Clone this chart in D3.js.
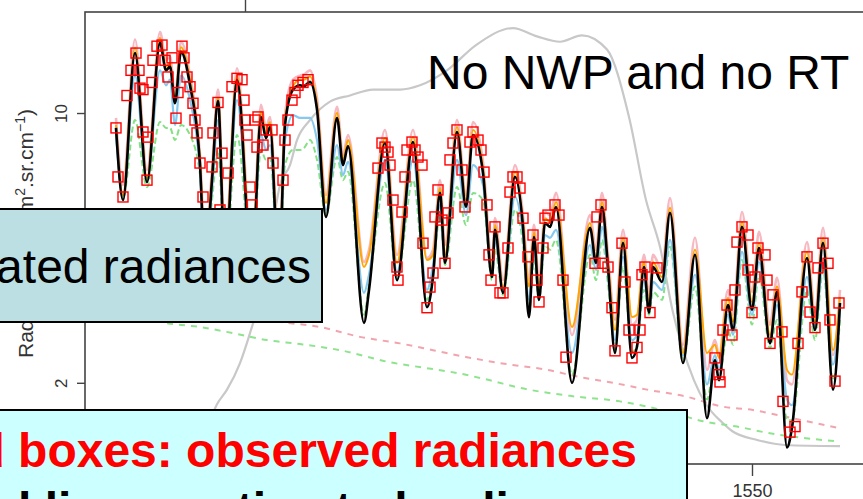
<!DOCTYPE html>
<html lang="en">
<head>
<meta charset="utf-8">
<script src="https://d3js.org/d3.v7.min.js"></script>
<style>
body{margin:0;background:#fff;}
svg{display:block;font-family:"Liberation Sans",Arial,sans-serif;}
</style>
</head>
<body>
<div id="chart"></div>
<script>
// wavenumbers (cm-1) where the estimated spectra were read off
const wn=[1470.5,1471.375,1472.875,1474.375,1476,1476.75,1477.25,1477.875,1478.625,1479.75,
1481,1481.625,1482.5,1483.25,1484.125,1485.625,1487.5,1488.625,1489.25,1489.75,
1490.875,1491.625,1492.625,1493.5,1494,1494.75,1495.625,1496.75,1498.125,1498.875,
1499.5,1501.5,1502.125,1504.125,1505.625,1507.625,1509.375,1510.125,1511,1511.625,
1513.125,1514.25,1515.125,1516.375,1517.5,1517.875,1518.875,1520.375,1521.375,1522.125,
1522.75,1523.375,1524.125,1524.75,1525.5,1527.5,1529.75,1530.5,1531.25,1532,
1532.875,1533.875,1535,1535.625,1536.5,1537.125,1537.625,1538.75,1539.75,1541.375,
1542.875,1544.375,1545.375,1545.875,1547,1547.625,1548.75,1550,1550.875,1552.25,
1553.125,1554.375,1555,1556.875,1557.875,1558.875,1560.125,1561]
const estBlack=[9.15,5.95,14.3,6.62,15.2,12.9,13.2,10.6,14.4,11.8,
7.33,4.04,6.70,10.74,4.04,12.2,3.92,9.76,8.61,9.20,
3.81,9.31,11.5,11.8,11.74,12.04,10.2,5.38,9.71,7.33,
8.21,2.86,3.48,8.36,3.69,8.41,3.14,3.76,6.21,4.09,
8.93,5.71,8.77,6.99,3.76,4.98,3.42,6.83,5.07,2.96,
4.77,3.28,5.19,5.07,5.71,2.00,5.04,4.09,5.71,3.99,
2.39,4.61,2.32,2.48,3.99,3.04,3.99,3.65,5.51,2.25,
4.29,1.62,2.29,2.03,3.18,2.74,5.07,3.09,4.47,2.53,
3.44,1.36,1.53,4.21,2.74,4.61,1.92,3.22]
const estPink=[9.71,6.51,15.5,7.12,16.2,13.7,14.0,11.1,15.3,12.5,
7.78,4.69,7.12,11.5,4.55,13.06,4.42,10.5,9.15,9.76,
4.29,9.88,12.2,12.5,12.58,12.9,10.92,6.13,10.38,7.78,
8.77,4.11,4.42,9.04,4.29,9.04,4.21,4.42,6.70,4.55,
9.59,6.13,9.48,7.47,4.11,5.34,3.69,7.33,5.44,3.69,
5.13,3.65,5.54,5.44,6.21,2.66,5.44,4.42,6.21,4.29,
2.91,4.98,2.83,2.91,4.29,3.38,4.29,3.92,6.02,2.51,
4.75,2.16,2.58,2.36,3.48,3.00,5.54,3.44,4.92,2.83,
3.74,2.03,1.98,4.63,3.05,5.04,2.36,3.48]
const estOrange=[9.31,6.13,14.76,6.78,15.66,13.2,13.5,10.8,14.8,12.2,
7.56,4.42,6.91,10.98,4.42,12.5,4.29,10.07,8.88,9.48,
4.11,9.59,11.74,12.2,12.2,12.44,10.56,5.85,10.01,7.56,
8.51,3.99,4.29,8.61,4.09,8.67,4.16,4.29,6.40,4.29,
9.20,5.95,9.04,7.20,3.92,5.13,3.52,7.04,5.22,3.55,
4.92,3.48,5.34,5.22,5.88,2.79,5.19,4.21,5.88,4.11,
2.74,4.75,2.96,3.00,4.11,3.18,4.11,3.76,5.68,2.39,
4.42,2.39,2.51,2.32,3.32,2.88,5.22,3.24,4.61,2.66,
3.55,2.16,2.10,4.37,2.88,4.75,2.43,3.34]
const estBlue=[8.77,6.13,12.5,6.70,12.9,11.8,12.2,9.31,12.5,10.8,
7.12,4.29,6.32,9.59,4.21,10.8,4.11,8.77,8.02,8.26,
3.97,8.51,9.88,9.71,9.71,9.71,8.51,5.61,8.26,6.91,
7.47,3.42,3.81,7.56,3.88,7.56,3.48,4.04,5.78,4.11,
7.56,5.44,7.33,6.51,3.81,4.69,3.48,6.06,4.83,3.28,
4.42,3.38,4.83,4.75,4.98,2.39,4.55,3.92,5.07,3.81,
2.58,4.24,2.58,2.66,3.69,3.09,3.65,3.48,4.69,2.36,
3.81,1.98,2.36,2.16,3.00,2.66,4.37,3.00,4.11,2.58,
3.18,1.81,1.75,3.76,2.74,4.09,2.23,3.09]
const estGreen=[9.04,6.02,9.59,6.43,9.48,9.15,9.15,8.51,9.31,8.77,
6.91,4.11,5.95,8.02,4.11,8.77,3.97,8.02,7.56,7.65,
3.88,7.33,8.02,8.02,8.12,8.51,7.56,5.44,7.69,6.70,
7.04,3.00,3.59,6.59,3.74,6.70,3.28,3.88,5.44,4.04,
6.43,5.13,6.21,5.95,3.69,4.42,3.38,5.61,4.55,3.05,
4.16,3.28,4.55,4.42,4.69,2.10,4.29,3.69,4.69,3.59,
2.43,3.99,2.40,2.51,3.48,3.00,3.44,3.28,4.50,2.27,
3.55,1.81,2.27,2.06,2.74,2.51,4.16,2.83,3.81,2.46,
2.91,1.60,1.60,3.48,2.58,3.92,2.03,2.91]

// observed radiances (red boxes)
const obsWn=[1470.5,1470.75,1471.375,1471.875,1472.375,1473,1473.375,1473.5,1473.875,1473.875,
1474.375,1474.5,1475,1475.125,1475.625,1476.25,1476.625,1477,1477.5,1478,
1478.25,1478.75,1479,1479.375,1479.75,1480.125,1480.375,1480.625,1481,1481.375,
1482.5,1482.625,1483.25,1483.5,1483.75,1484.5,1485,1485.625,1486.25,1486.5,
1486.625,1486.875,1487.25,1487.5,1487.875,1488.125,1488.25,1488.875,1489.25,1490,
1490.125,1491.375,1491.625,1492,1492.5,1492.875,1493.25,1493.875,1494.5,
1503.25,1503.75,1504.125,1504.5,1504.75,1505.125,1505.625,1505.75,1506.25,1506.625,
1506.875,1507.5,1507.875,1508.25,1508.75,1508.875,1509.375,1509.75,1510.125,1510.375,
1510.75,1511.25,1511.625,1512,1512.25,1512.625,1513.125,1513.75,1514.125,1514.75,
1515.125,1515.75,1516.125,1516.5,1516.875,1517.125,1517.375,1517.875,1518.5,1518.875,
1519.5,1519.75,1520.125,1520.625,1521,1521.375,1522,1522.625,1523.125,1523.375,
1523.875,1524.125,1524.5,1525.375,1525.875,1526.375,1526.75,
1530.375,1530.625,1531.125,1531.375,1532,1532.5,1532.875,1533.75,1534.125,1534.625,
1535,1535.625,1536,1536.25,1536.625,1537.25,1538.125,
1545.375,1545.875,1546,1546.375,1546.875,1547.5,1547.875,1548.125,1548.75,1549.5,
1549.5,1550,1550.375,1550.75,1551.625,1551.875,1552.25,1552.625,1553.75,1553.875,
1554.75,1555.375,1555.75,1556.25,1556.875,1557.25,1557.875,1558.25,1558.875,1559.5,
1559.75,1560.375,1560.875]
const obsRad=[9.15,6.83,6.06,11.1,12.9,14.3,12.9,11.6,11.5,8.93,
6.70,8.66,12.0,13.7,14.9,15.0,13.7,12.4,13.9,9.7,
11.3,14.9,13.9,12.4,11.7,10.6,9.59,8.88,7.42,6.06,
7.25,8.88,10.65,5.61,7.87,6.99,11.7,12.3,12.2,10.8,
9.59,8.77,6.43,5.78,9.59,8.16,9.77,8.26,9.04,9.04,
7.42,6.70,8.51,9.59,10.8,11.3,11.8,12.0,12.2,
7.2,8.36,8.16,7.92,7.33,5.95,3.99,3.69,5.54,6.83,
8.02,8.41,8.02,7.69,7.33,4.60,3.13,3.54,3.85,5.38,
6.32,5.28,4.08,5.51,7.56,8.36,9.04,7.12,5.71,8.41,
8.93,8.51,8.02,7.03,5.78,4.29,3.69,5.07,3.42,3.42,
4.47,6.24,6.83,6.83,6.39,5.34,4.24,4.83,3.69,3.24,
4.47,5.34,5.44,5.78,5.44,3.69,2.33,
4.08,5.38,5.78,4.08,3.99,3.13,2.42,4.60,3.65,2.74,
2.32,2.47,2.74,3.81,3.99,3.04,3.97,
2.32,2.10,2.01,2.74,3.18,2.66,3.48,4.63,5.07,4.83,
3.92,3.04,3.76,4.47,4.29,3.69,2.53,3.38,2.71,1.79,
1.49,1.54,2.53,3.44,4.24,3.05,2.78,3.97,4.60,4.08,
2.91,2.02,3.22]

// grey smooth curve
const greyWn=[1481,1483.125,1484.375,1486,1487.25,1488.75,1490,1491,1492.25,1493.125,1494.75,1497.25,1499.75,1502.625,1506,1508.5,1511.875,1515.5,1520.125,1523.125,1526,1528.75,1531.875,1534.625,1536.75,1538.5,1540.125,1542.75,1544.25,1546.25,1547.5,1550.75,1554.125,1561]
const greyVal=[1.34,1.76,1.92,2.25,2.69,3.48,4.98,6.51,7.33,8.51,9.59,10.7,11.1,11.5,11.5,11.8,12.9,15.0,16.6,15.8,15.3,15.9,14.6,9.77,5.95,4.50,3.04,2.03,1.76,1.58,1.50,1.42,1.38,1.37]

// lower dashed curves
const lowPinkWn=[1469.75,1481,1491.875,1496,1501,1506,1510.125,1514.375,1518.5,1524.375,1528.5,1532.625,1536.875,1541.875,1546,1550.125,1554.375,1560.625]
const lowPinkVal=[3.28,3.05,2.86,2.79,2.63,2.53,2.43,2.33,2.25,2.16,2.07,2.00,1.92,1.84,1.74,1.70,1.63,1.53]
const lowGreenWn=[1469.75,1476.625,1481,1485.125,1489.375,1493.5,1498.5,1504.75,1508.875,1513.125,1517.25,1521,1527.25,1533.5,1539.75,1543.875,1548.125,1552.25,1556.375,1560.625]
const lowGreenVal=[3.18,2.86,2.79,2.69,2.58,2.52,2.43,2.26,2.19,2.12,2.03,1.94,1.85,1.79,1.68,1.59,1.54,1.48,1.44,1.41]

const yTicks=[2,5,10]
const xTicks=[1550]
const topTicks=[1486.625]

const W=863,H=499
const x=d3.scaleLinear().domain([1456,1570]).range([0,912])
const y=d3.scaleLog().domain([1.232,18.27]).range([464,12])
const font="Liberation Sans, Arial, sans-serif"

const svg=d3.select("#chart").append("svg").attr("width",W).attr("height",H)
svg.append("rect").attr("width",W).attr("height",H).attr("fill","#fff")
svg.append("defs").append("clipPath").attr("id","pc").append("rect").attr("x",85).attr("y",12).attr("width",900).attr("height",452)
const plot=svg.append("g").attr("clip-path","url(#pc)")

function addLine(xs,ys,color,width,dash,op){
  const pts=xs.map((d,i)=>[d,ys[i]])
  plot.append("path").datum(pts)
    .attr("d",d3.line().x(d=>x(d[0])).y(d=>y(d[1])).curve(d3.curveMonotoneX))
    .attr("fill","none").attr("stroke",color).attr("stroke-width",width)
    .attr("stroke-dasharray",dash).attr("stroke-opacity",op).attr("stroke-linejoin","round")
}
addLine(greyWn,greyVal,"#c8c8c8",2.2,null,1)
addLine(lowPinkWn,lowPinkVal,"#f2a4ae",2,"6,6",1)
addLine(lowGreenWn,lowGreenVal,"#8fe38f",2,"6,6",1)
addLine(wn,estPink,"#f08a9a",2.6,null,0.6)
addLine(wn,estGreen,"#84e084",2,"6,3",1)
addLine(wn,estBlue,"#87c8ee",2.2,null,1)
addLine(wn,estOrange,"#ffa500",2,null,1)
addLine(wn,estBlack,"#000",2.6,null,1)

plot.selectAll("rect.obs").data(obsWn.map((d,i)=>[d,obsRad[i]])).enter().append("rect").attr("class","obs")
  .attr("x",d=>x(d[0])-5).attr("y",d=>y(d[1])-5).attr("width",10).attr("height",10)
  .attr("fill","none").attr("stroke","#ff0000").attr("stroke-width",1.4)

// axes
const ax=svg.append("g").attr("transform","translate(85,0)")
  .call(d3.axisLeft(y).tickValues(yTicks).tickFormat(d3.format("d")).tickSize(8))
ax.attr("font-family",font)
ax.select(".domain").remove()
ax.selectAll("line").attr("stroke","#444").attr("stroke-width",1.4)
ax.selectAll("text").attr("transform","rotate(-90)").attr("x",0).attr("y",-18).attr("dy",0)
  .attr("text-anchor","middle").attr("fill","#333").style("font-size","17px")

const bx=svg.append("g").attr("transform","translate(0,464)")
  .call(d3.axisBottom(x).tickValues(xTicks).tickFormat(d3.format("d")).tickSize(12).tickPadding(8))
bx.attr("font-family",font)
bx.select(".domain").remove()
bx.selectAll("line").attr("stroke","#444").attr("stroke-width",1.4)
bx.selectAll("text").attr("fill","#333").style("font-size","18px")

const tx=svg.append("g").attr("transform","translate(0,12)")
  .call(d3.axisTop(x).tickValues(topTicks).tickFormat(()=>"").tickSize(12))
tx.select(".domain").remove()
tx.selectAll("line").attr("stroke","#444").attr("stroke-width",1.4)

svg.append("rect").attr("x",85).attr("y",12).attr("width",900).attr("height",452)
  .attr("fill","none").attr("stroke","#444").attr("stroke-width",1.6)

// y label
const yl=svg.append("text").attr("transform","translate(33,358) rotate(-90)")
  .attr("font-family",font).style("font-size","21px").attr("fill","#333")
yl.append("tspan").text("Radiance (mW/m")
yl.append("tspan").attr("dy",-8).style("font-size","14px").text("2")
yl.append("tspan").attr("dy",8).text(".sr.cm")
yl.append("tspan").attr("dy",-8).style("font-size","14px").text("\u22121")
yl.append("tspan").attr("dy",8).text(")")

// annotations
svg.append("text").attr("x",427).attr("y",89).attr("font-family",font).style("font-size","48px")
  .attr("fill","#000").text("No NWP and no RT")

svg.append("rect").attr("x",-10).attr("y",209).attr("width",332).attr("height",113)
  .attr("fill","#bbdfe3").attr("stroke","#000").attr("stroke-width",2)
svg.append("text").attr("x",311).attr("y",283).attr("text-anchor","end").attr("font-family",font)
  .style("font-size","48px").attr("fill","#000").text("Estimated radiances")

svg.append("rect").attr("x",-10).attr("y",410).attr("width",697).attr("height",120)
  .attr("fill","#ccffff").attr("stroke","#000").attr("stroke-width",2)
const t1=svg.append("text").attr("x",637).attr("y",467).attr("text-anchor","end").attr("font-family",font)
  .style("font-size","48px").style("font-weight","bold").attr("fill","#ff0000").text("Red boxes: observed radiances")
const left=637-t1.node().getComputedTextLength()
svg.append("text").attr("x",left).attr("y",526).attr("font-family",font)
  .style("font-size","48px").style("font-weight","bold").attr("fill","#000").text("Solid lines: estimated radiances")
</script>
</body>
</html>
